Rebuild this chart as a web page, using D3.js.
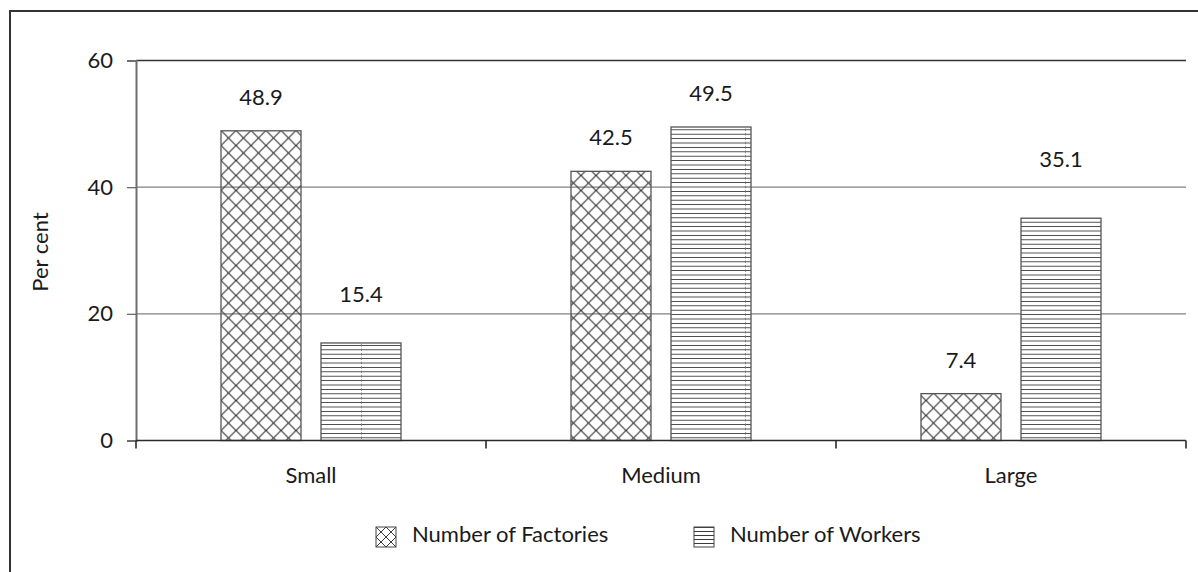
<!DOCTYPE html>
<html>
<head>
<meta charset="utf-8">
<script src="https://cdn.jsdelivr.net/npm/d3@7"></script>
<style>
  html, body { margin: 0; padding: 0; background: #fff; }
  svg { display: block; }
  text { font-family: Lato, "Open Sans", sans-serif; fill: #1a1a1a; }
</style>
</head>
<body>
<svg id="chart" width="1198" height="572"></svg>
<script>
// Share of factories and workers by factory size (per cent)
const categories = ["Small", "Medium", "Large"];
const seriesNames = ["Number of Factories", "Number of Workers"];
const factories = [48.9, 42.5, 7.4];
const workers = [15.4, 49.5, 35.1];
const yTicks = [0, 20, 40, 60];

// gap (px) between each bar top and its value label baseline
const labelGap = [[26, 26, 26], [41, 26, 51]];

const values = [factories, workers];
const svg = d3.select("#chart");
const W = 1198, H = 572;
const FONT = 22;

const defs = svg.append("defs");

// cross-hatch fill for factory bars
const cross = defs.append("pattern")
  .attr("id", "cross").attr("patternUnits", "userSpaceOnUse")
  .attr("x", 221).attr("y", 130.5)
  .attr("width", 15).attr("height", 15);
cross.append("path")
  .attr("d", "M-2,-2 L17,17 M17,-2 L-2,17")
  .attr("stroke", "#3a3a3a").attr("stroke-width", 1.2).attr("fill", "none");

// horizontal-line fill for worker bars (128px tiles leave a faint seam)
const horiz = defs.append("pattern")
  .attr("id", "horiz").attr("patternUnits", "userSpaceOnUse")
  .attr("x", 0).attr("y", 0)
  .attr("width", 128).attr("height", 4.4);
horiz.append("rect").attr("width", 128).attr("height", 4.4).attr("fill", "#fff");
horiz.append("line")
  .attr("x1", 0).attr("x2", 128).attr("y1", 2.2).attr("y2", 2.2)
  .attr("stroke", "#3a3a3a").attr("stroke-width", 1);
horiz.append("line")
  .attr("x1", 105.5).attr("x2", 105.5).attr("y1", 1.2).attr("y2", 3.2)
  .attr("stroke", "#666").attr("stroke-width", 1);

// legend swatch fills (local coordinates of each legend item)
const crossKey = defs.append("pattern")
  .attr("id", "crossKey").attr("patternUnits", "userSpaceOnUse")
  .attr("x", 0).attr("y", 0).attr("width", 10).attr("height", 10);
crossKey.append("path")
  .attr("d", "M-1,-1 L11,11 M11,-1 L-1,11")
  .attr("stroke", "#3a3a3a").attr("stroke-width", 1).attr("fill", "none");
const horizKey = defs.append("pattern")
  .attr("id", "horizKey").attr("patternUnits", "userSpaceOnUse")
  .attr("x", 0).attr("y", 0).attr("width", 20).attr("height", 4);
horizKey.append("line")
  .attr("x1", 0).attr("x2", 20).attr("y1", 0.5).attr("y2", 0.5)
  .attr("stroke", "#3a3a3a").attr("stroke-width", 1);

const fills = ["url(#cross)", "url(#horiz)"];
const keyFills = ["url(#crossKey)", "url(#horizKey)"];

// outer frame
svg.append("rect")
  .attr("x", 10).attr("y", 11).attr("width", W + 100).attr("height", H + 100)
  .attr("fill", "none").attr("stroke", "#333").attr("stroke-width", 2);

// scales
const x0 = d3.scaleBand().domain(categories).range([136, 1186]).padding(0);
const x1 = d3.scaleBand().domain(seriesNames).range([0, x0.bandwidth()])
  .paddingInner(0.2).paddingOuter(0.85);
const y = d3.scaleLinear().domain([0, 60]).range([440.5, 60.5]);

// gridlines
svg.append("g").selectAll("line")
  .data(yTicks.filter(d => d > 0))
  .join("line")
  .attr("x1", 136).attr("x2", 1186)
  .attr("y1", d => y(d)).attr("y2", d => y(d))
  .attr("stroke", d => d === 60 ? "#333" : "#808080")
  .attr("stroke-width", 1.3);

// y axis
const yAxis = svg.append("g")
  .attr("transform", "translate(136,0)")
  .call(d3.axisLeft(y).tickValues(yTicks).tickSize(9).tickPadding(14).tickFormat(d3.format("d")));
yAxis.select(".domain").attr("stroke", "#6e6e6e").attr("stroke-width", 2);
yAxis.selectAll(".tick line").attr("stroke", "#6e6e6e").attr("stroke-width", 1.3);
yAxis.selectAll(".tick text")
  .attr("font-family", "Lato, sans-serif").attr("font-size", FONT).attr("fill", "#1a1a1a");

// flat list of bars, positioned in page coordinates so fills tile consistently
const bars = [];
categories.forEach((c, i) => seriesNames.forEach((s, j) =>
  bars.push({ c, s, i, j, v: values[j][i] })));
const barX = d => x0(d.c) + x1(d.s);

svg.append("g").selectAll("rect")
  .data(bars)
  .join("rect")
  .attr("x", barX)
  .attr("y", d => y(d.v))
  .attr("width", x1.bandwidth())
  .attr("height", d => y(0) - y(d.v))
  .attr("fill", d => fills[d.j])
  .attr("stroke", "#555").attr("stroke-width", 1.3);

// value labels
svg.append("g").selectAll("text")
  .data(bars)
  .join("text")
  .attr("x", d => barX(d) + x1.bandwidth() / 2)
  .attr("y", d => y(d.v) - labelGap[d.j][d.i])
  .attr("text-anchor", "middle")
  .attr("font-size", FONT)
  .text(d => d.v.toFixed(1));

// x axis
const xAxis = svg.append("g")
  .attr("transform", `translate(0,${y(0)})`);
xAxis.append("line")
  .attr("x1", 136).attr("x2", 1186).attr("y1", 0).attr("y2", 0)
  .attr("stroke", "#2a2a2a").attr("stroke-width", 1.6);
xAxis.selectAll("line.tk")
  .data(d3.range(categories.length + 1))
  .join("line")
  .attr("class", "tk")
  .attr("x1", i => i < categories.length ? x0(categories[i]) : x0.range()[1])
  .attr("x2", i => i < categories.length ? x0(categories[i]) : x0.range()[1])
  .attr("y1", 0).attr("y2", 8)
  .attr("stroke", "#2a2a2a").attr("stroke-width", 1.6);
xAxis.selectAll("text")
  .data(categories)
  .join("text")
  .attr("x", d => x0(d) + x0.bandwidth() / 2)
  .attr("y", 42)
  .attr("text-anchor", "middle")
  .attr("font-size", FONT)
  .text(d => d);

// y axis title
svg.append("text")
  .attr("transform", "translate(48,252) rotate(-90)")
  .attr("text-anchor", "middle")
  .attr("font-size", FONT)
  .text("Per cent");

// legend
const legendX = [376, 694];
const legend = svg.append("g").selectAll("g")
  .data(seriesNames)
  .join("g")
  .attr("transform", (d, i) => `translate(${legendX[i]},527)`);
legend.append("rect")
  .attr("width", 20).attr("height", 20)
  .attr("fill", (d, i) => keyFills[i])
  .attr("stroke", "#444").attr("stroke-width", 1);
legend.append("text")
  .attr("x", 36).attr("y", 15)
  .attr("font-size", FONT)
  .text(d => d);
</script>
</body>
</html>
